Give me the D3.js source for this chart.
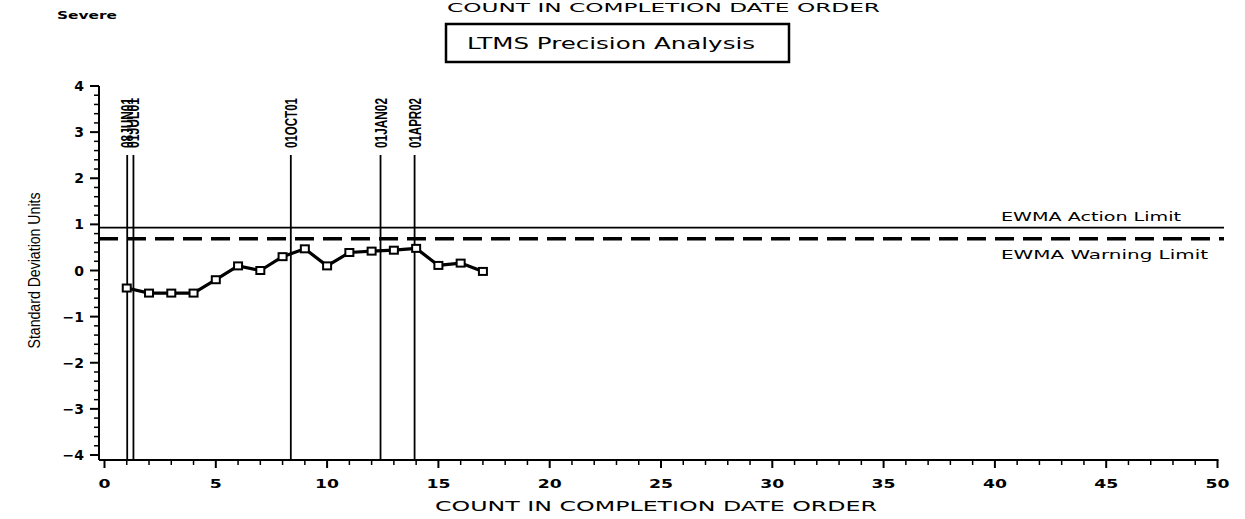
<!DOCTYPE html>
<html>
<head>
<meta charset="utf-8">
<script src="https://cdn.jsdelivr.net/npm/d3@7/dist/d3.min.js"></script>
<style>
  html, body { margin: 0; padding: 0; background: #fff; }
  svg { display: block; }
  text { fill: #000; }
</style>
</head>
<body>
<svg id="chart" width="1245" height="519"></svg>
<script>
// ---- data ----
const counts = [1, 2, 3, 4, 5, 6, 7, 8, 9, 10, 11, 12, 13, 14, 15, 16, 17];
const ewma = [-0.38, -0.49, -0.49, -0.49, -0.2, 0.1, 0.0, 0.3, 0.47, 0.1, 0.39, 0.42, 0.44, 0.48, 0.11, 0.16, -0.02];
const dateMarks = [1.02, 1.3, 8.37, 12.4, 13.93];
const dateLabels = ['08JUN01', '01JUL01', '01OCT01', '01JAN02', '01APR02'];
const actionLimit = 0.93;
const warningLimit = 0.69;
const xTicks = [0, 5, 10, 15, 20, 25, 30, 35, 40, 45, 50];
const yTicks = [-4, -3, -2, -1, 0, 1, 2, 3, 4];

const svg = d3.select('#chart');
const wide = "'DejaVu Sans', Verdana, sans-serif";
const narrow = "'Liberation Sans', Arial, sans-serif";

const x = d3.scaleLinear().domain([0, 50]).range([104.5, 1217.5]);
const y = d3.scaleLinear().domain([-4, 4]).range([455, 86]);
const axisX = 99;   // y axis line position
const axisY = 460;  // x axis line position
const plotRight = 1224;

// headings
svg.append('text')
  .attr('x', 447).attr('y', 12)
  .attr('textLength', 433).attr('lengthAdjust', 'spacingAndGlyphs')
  .style('font', `12px ${wide}`)
  .text('COUNT IN COMPLETION DATE ORDER');

svg.append('text')
  .attr('x', 57).attr('y', 19)
  .attr('textLength', 60).attr('lengthAdjust', 'spacingAndGlyphs')
  .style('font', `bold 11px ${wide}`)
  .text('Severe');

svg.append('rect')
  .attr('x', 446).attr('y', 24).attr('width', 343).attr('height', 38)
  .attr('fill', 'none').attr('stroke', '#000').attr('stroke-width', 2.5);
svg.append('text')
  .attr('x', 467).attr('y', 49)
  .attr('textLength', 288).attr('lengthAdjust', 'spacingAndGlyphs')
  .style('font', `16px ${wide}`)
  .text('LTMS Precision Analysis');

// axes
const yMinor = d3.range(-4, 4.001, 0.2).filter(v => Math.abs(v - Math.round(v)) > 0.01);
const gy = svg.append('g').attr('class', 'y-axis');
gy.append('line')
  .attr('x1', axisX).attr('x2', axisX).attr('y1', y(4)).attr('y2', axisY)
  .attr('stroke', '#000').attr('stroke-width', 2);
gy.selectAll('line.major').data(yTicks).join('line').attr('class', 'major')
  .attr('x1', axisX - 9).attr('x2', axisX).attr('y1', d => y(d)).attr('y2', d => y(d))
  .attr('stroke', '#000').attr('stroke-width', 2);
gy.selectAll('line.minor').data(yMinor).join('line').attr('class', 'minor')
  .attr('x1', axisX - 5).attr('x2', axisX).attr('y1', d => y(d)).attr('y2', d => y(d))
  .attr('stroke', '#000').attr('stroke-width', 1.5);
gy.selectAll('text').data(yTicks).join('text')
  .attr('x', axisX - 15).attr('y', d => y(d) + 5)
  .attr('text-anchor', 'end')
  .style('font', `bold 14px ${wide}`)
  .text(d => d < 0 ? '\u2212' + Math.abs(d) : d);

const xMinor = d3.range(0, 51).filter(v => v % 5 !== 0);
const gx = svg.append('g').attr('class', 'x-axis');
gx.append('line')
  .attr('x1', axisX).attr('x2', x(50) + 1).attr('y1', axisY).attr('y2', axisY)
  .attr('stroke', '#000').attr('stroke-width', 2);
gx.selectAll('line.major').data(xTicks).join('line').attr('class', 'major')
  .attr('x1', d => x(d)).attr('x2', d => x(d)).attr('y1', axisY).attr('y2', axisY + 8)
  .attr('stroke', '#000').attr('stroke-width', 2);
gx.selectAll('line.minor').data(xMinor).join('line').attr('class', 'minor')
  .attr('x1', d => x(d)).attr('x2', d => x(d)).attr('y1', axisY).attr('y2', axisY + 5)
  .attr('stroke', '#000').attr('stroke-width', 1.5);
gx.selectAll('text').data(xTicks).join('text')
  .attr('x', d => x(d)).attr('y', 488)
  .attr('text-anchor', 'middle')
  .attr('textLength', d => String(d).length * 12).attr('lengthAdjust', 'spacingAndGlyphs')
  .style('font', `bold 13px ${wide}`)
  .text(d => d);

svg.append('text')
  .attr('x', 435).attr('y', 511)
  .attr('textLength', 442).attr('lengthAdjust', 'spacingAndGlyphs')
  .style('font', `14px ${wide}`)
  .text('COUNT IN COMPLETION DATE ORDER');

svg.append('text')
  .attr('transform', `translate(40, ${y(0)}) rotate(-90)`)
  .attr('text-anchor', 'middle')
  .attr('textLength', 156).attr('lengthAdjust', 'spacingAndGlyphs')
  .style('font', `17px ${narrow}`)
  .text('Standard Deviation Units');

// limits
svg.append('line')
  .attr('x1', axisX).attr('x2', plotRight).attr('y1', y(actionLimit)).attr('y2', y(actionLimit))
  .attr('stroke', '#000').attr('stroke-width', 1.8);
svg.append('line')
  .attr('x1', axisX).attr('x2', plotRight).attr('y1', y(warningLimit)).attr('y2', y(warningLimit))
  .attr('stroke', '#000').attr('stroke-width', 3.5).attr('stroke-dasharray', '19,9');
svg.append('text')
  .attr('x', 1001).attr('y', y(actionLimit) - 7)
  .attr('textLength', 180).attr('lengthAdjust', 'spacingAndGlyphs')
  .style('font', `12px ${wide}`)
  .text('EWMA Action Limit');
svg.append('text')
  .attr('x', 1001).attr('y', y(warningLimit) + 20)
  .attr('textLength', 207).attr('lengthAdjust', 'spacingAndGlyphs')
  .style('font', `12px ${wide}`)
  .text('EWMA Warning Limit');

// date reference lines
const marks = dateMarks.map((v, i) => ({ v, label: dateLabels[i] }));
const gm = svg.append('g').attr('class', 'date-marks');
gm.selectAll('line').data(marks).join('line')
  .attr('x1', d => x(d.v)).attr('x2', d => x(d.v))
  .attr('y1', 155).attr('y2', axisY)
  .attr('stroke', '#000').attr('stroke-width', 1.8);
gm.selectAll('text').data(marks).join('text')
  .attr('transform', d => `translate(${x(d.v) + 6}, 148) rotate(-90)`)
  .attr('textLength', 50).attr('lengthAdjust', 'spacingAndGlyphs')
  .style('font', `bold 16px ${narrow}`)
  .text(d => d.label);

// EWMA series
const pts = counts.map((c, i) => ({ c, v: ewma[i] }));
svg.append('path')
  .datum(pts)
  .attr('fill', 'none').attr('stroke', '#000').attr('stroke-width', 3.2)
  .attr('stroke-linejoin', 'round')
  .attr('d', d3.line().x(d => x(d.c)).y(d => y(d.v)));
svg.selectAll('rect.marker').data(pts).join('rect').attr('class', 'marker')
  .attr('x', d => x(d.c) - 4).attr('y', d => y(d.v) - 3.5)
  .attr('width', 8).attr('height', 7)
  .attr('fill', '#fff').attr('stroke', '#000').attr('stroke-width', 2);
</script>
</body>
</html>
